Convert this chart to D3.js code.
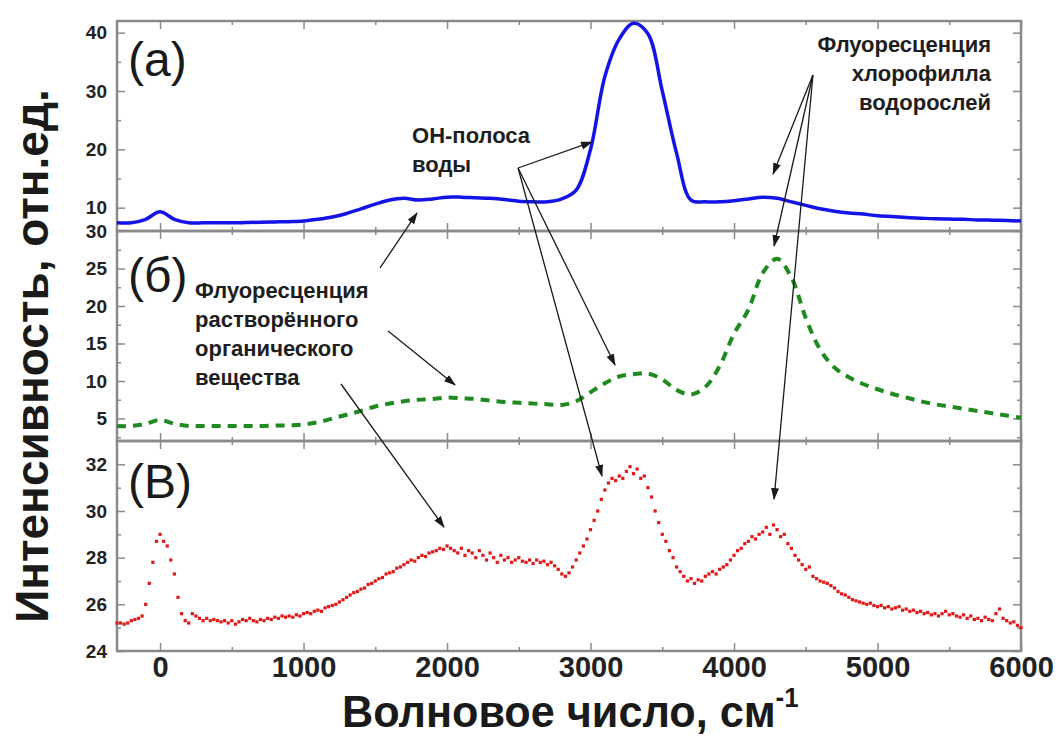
<!DOCTYPE html>
<html>
<head>
<meta charset="utf-8">
<script src="https://cdn.jsdelivr.net/npm/d3@7"></script>
<style>
    body { margin: 0; background: #fff; }
    text { font-family: "Liberation Sans", Arial, sans-serif; }
</style>
</head>
<body>
<svg id="chart"></svg>
<script>
const width = 1061,
      height = 738;

const MARGIN = { LEFT: 117, RIGHT: 40, TOP: 21, BOTTOM: 87 };

// wavenumber grids, cm-1
const waveCoarse = d3.range(-300, 6001, 100);
const waveFine = d3.range(-300, 6001, 25);

// (а) blue solid line
const seriesA = [
    7.4, 7.4, 8.0, 9.3, 8.0, 7.4, 7.4, 7.4, 7.4, 7.45,
    7.5, 7.55, 7.6, 7.7, 8.0, 8.4, 9.0, 9.8, 10.6, 11.3,
    11.6, 11.3, 11.5, 11.8, 11.8, 11.7, 11.6, 11.4, 11.1, 11.0,
    11.0, 11.5, 13.0, 20.0, 32.5, 38.9, 41.6, 39.8, 30.0, 19.3,
    11.3, 11.0, 11.0, 11.2, 11.5, 11.8, 11.6, 11.0, 10.4, 9.8,
    9.4, 9.1, 8.9, 8.6, 8.5, 8.3, 8.2, 8.1, 8.05, 8.0,
    7.9, 7.85, 7.8, 7.7
];

// (б) green dashed line
const seriesB = [
    4.0, 4.0, 4.3, 4.8, 4.3, 4.0, 4.0, 4.0, 4.0, 4.0,
    4.0, 4.05, 4.1, 4.2, 4.5, 5.0, 5.5, 6.0, 6.6, 7.0,
    7.3, 7.5, 7.6, 7.8, 7.7, 7.6, 7.4, 7.2, 7.1, 7.0,
    6.9, 6.8, 7.3, 8.5, 9.7, 10.6, 10.9, 11.0, 10.2, 8.8,
    8.2, 9.2, 12.0, 16.3, 19.5, 24.4, 26.3, 23.8, 18.4, 14.2,
    11.8, 10.5, 9.6, 8.9, 8.3, 7.8, 7.3, 6.9, 6.6, 6.3,
    6.0, 5.7, 5.4, 5.1
];

// (в) red dots, step 25 cm-1
const seriesC = [
    25.2, 25.2, 25.15, 25.2, 25.3, 25.35, 25.4, 25.5, 26.0, 26.9, 27.8, 28.7,
    29.0, 28.7, 28.5, 27.9, 27.3, 26.3, 25.6, 25.3, 25.2, 25.6, 25.5, 25.4, 25.3, 25.4, 25.3, 25.35, 25.3, 25.25, 25.3, 25.2,
    25.3, 25.15, 25.25, 25.35, 25.3, 25.4, 25.3, 25.25, 25.35, 25.3, 25.4, 25.35, 25.45, 25.4, 25.5, 25.45, 25.5, 25.45, 25.55, 25.5,
    25.6, 25.65, 25.6, 25.7, 25.75, 25.7, 25.85, 25.9, 25.95, 26.0, 26.1, 26.2, 26.3, 26.4, 26.5, 26.55, 26.65, 26.7, 26.85, 26.9,
    27.0, 27.1, 27.15, 27.3, 27.35, 27.4, 27.55, 27.6, 27.7, 27.8, 27.9, 27.85, 28.0, 28.1, 28.05, 28.2, 28.25, 28.3, 28.4, 28.35,
    28.5, 28.4, 28.3, 28.2, 28.4, 28.1, 28.3, 28.2, 28.0, 28.3, 28.1, 27.9, 28.2, 28.0, 27.8, 28.1, 27.9, 28.0, 27.8, 27.9,
    28.0, 27.85, 27.8, 27.9, 27.75, 27.9, 27.8, 27.85, 27.7, 27.8, 27.65, 27.5, 27.3, 27.2, 27.35, 27.6, 27.9, 28.2, 28.5, 28.8,
    29.2, 29.6, 30.0, 30.5, 30.9, 31.2, 31.4, 31.3, 31.5, 31.4, 31.7, 31.9, 31.6, 31.8, 31.4, 31.5, 31.0, 30.6, 30.0, 29.5,
    29.0, 28.7, 28.3, 28.0, 27.6, 27.4, 27.2, 27.0, 27.1, 26.9, 27.05, 27.0, 27.2, 27.3, 27.4, 27.3, 27.5, 27.6, 27.7, 27.9,
    28.1, 28.3, 28.4, 28.6, 28.7, 28.9, 28.8, 29.0, 29.1, 29.3, 29.0, 29.4, 29.2, 28.9, 29.0, 28.6, 28.4, 28.1, 27.9, 27.7,
    27.5, 27.6, 27.2, 27.1, 27.0, 26.95, 26.9, 26.8, 26.7, 26.55, 26.45, 26.4, 26.3, 26.2, 26.15, 26.1, 26.05, 26.0, 26.05, 25.95,
    25.9, 25.95, 25.85, 25.9, 25.8, 25.85, 25.9, 25.75, 25.8, 25.7, 25.75, 25.65, 25.7, 25.6, 25.65, 25.55, 25.6, 25.5, 25.6, 25.7,
    25.55, 25.6, 25.5, 25.45, 25.55, 25.4, 25.5, 25.35, 25.4, 25.3, 25.45, 25.35, 25.3, 25.6, 25.8, 25.4, 25.3, 25.2, 25.25, 25.1,
    25.0
];

const xDomain = [-300, 6000];
const xTicks = [0, 1000, 2000, 3000, 4000, 5000, 6000];
const xMinorTicks = [500, 1500, 2500, 3500, 4500, 5500];

const panelLabels = ["(а)", "(б)", "(В)"];
const panelDomains = [[6, 42], [2, 30], [24, 33]];
const panelTicks = [[10, 20, 30, 40], [5, 10, 15, 20, 25, 30], [24, 26, 28, 30, 32]];
const panelMinor = [[15, 25, 35], [2.5, 7.5, 12.5, 17.5, 22.5, 27.5], [25, 27, 29, 31]];
// label anchor in data units of its own panel
const panelLabelAt = [[-223, 32.6], [-223, 21.9], [-223, 30.56]];

// annotations: [x, panel, y] in data units
const noteTexts = [
    { lines: ["ОН-полоса", "воды"], at: [1756, 0, 21.1], anchor: "start" },
    { lines: ["Флуоресценция", "хлорофилла", "водорослей"], at: [5791, 0, 36.7], anchor: "end" },
    { lines: ["Флуоресценция", "растворённого", "органического", "вещества"], at: [244, 1, 21.07], anchor: "start" }
];
const noteArrows = [
    [[4550, 0, 32.74], [4272, 0, 15.77]],
    [[4550, 0, 32.74], [4279, 1, 28.0]],
    [[4550, 0, 32.74], [4279, 2, 30.51]],
    [[2495, 0, 16.8], [3010, 0, 21.26]],
    [[2495, 0, 16.8], [3171, 1, 12.13]],
    [[2495, 0, 16.8], [3080, 2, 31.5]],
    [[1533, 1, 25.07], [1791, 0, 9.09]],
    [[1589, 1, 16.67], [2056, 1, 9.47]],
    [[1261, 1, 9.6], [1979, 2, 29.31]]
];

const svg = d3.select("#chart").attr("width", width).attr("height", height);

const plotW = width - MARGIN.LEFT - MARGIN.RIGHT;
const plotH = height - MARGIN.TOP - MARGIN.BOTTOM;
const panelH = plotH / 3;
const frameColor = "#8a8a8a";

const x = d3.scaleLinear().domain(xDomain).range([MARGIN.LEFT, MARGIN.LEFT + plotW]);

const yScales = panelDomains.map((dom, i) => {
    const top = MARGIN.TOP + i * panelH;
    return d3.scaleLinear().domain(dom).range([top + panelH, top]);
});

svg.append("defs").append("marker")
    .attr("id", "head")
    .attr("markerUnits", "userSpaceOnUse")
    .attr("markerWidth", 12).attr("markerHeight", 10)
    .attr("refX", 11).attr("refY", 4)
    .attr("orient", "auto")
    .append("path")
    .attr("d", "M0,0 L12,4 L0,8 Z")
    .attr("fill", "#1a1a1a");

// axes for each panel, all ticks pointing inward
panelDomains.forEach((dom, i) => {
    const y = yScales[i];
    const top = y.range()[1], bottom = y.range()[0];
    const g = svg.append("g");

    const styleAxis = sel => {
        sel.select(".domain").remove();
        sel.selectAll(".tick line").attr("stroke", frameColor).attr("stroke-width", 1.5);
    };

    g.append("g").attr("transform", `translate(${MARGIN.LEFT},0)`)
        .call(d3.axisLeft(y).tickValues(panelTicks[i]).tickSize(-8).tickPadding(10).tickFormat(d3.format("d")))
        .call(styleAxis)
        .call(s => s.selectAll("text")
            .attr("font-size", 19).attr("font-weight", "bold").attr("fill", "#222")
            .attr("font-family", "Liberation Sans, Arial, sans-serif"));
    g.append("g").attr("transform", `translate(${MARGIN.LEFT},0)`)
        .call(d3.axisLeft(y).tickValues(panelMinor[i]).tickSize(-4).tickFormat(""))
        .call(styleAxis);
    g.append("g").attr("transform", `translate(${x.range()[1]},0)`)
        .call(d3.axisRight(y).tickValues(panelTicks[i]).tickSize(-8).tickFormat(""))
        .call(styleAxis);
    g.append("g").attr("transform", `translate(${x.range()[1]},0)`)
        .call(d3.axisRight(y).tickValues(panelMinor[i]).tickSize(-4).tickFormat(""))
        .call(styleAxis);

    g.append("g").attr("transform", `translate(0,${top})`)
        .call(d3.axisTop(x).tickValues(xTicks).tickSize(-8).tickFormat(""))
        .call(styleAxis);
    g.append("g").attr("transform", `translate(0,${top})`)
        .call(d3.axisTop(x).tickValues(xMinorTicks).tickSize(-4).tickFormat(""))
        .call(styleAxis);

    const bottomAxis = g.append("g").attr("transform", `translate(0,${bottom})`)
        .call(d3.axisBottom(x).tickValues(xTicks).tickSize(-8).tickPadding(5)
            .tickFormat(i === 2 ? d3.format("d") : ""))
        .call(styleAxis);
    bottomAxis.selectAll("text")
        .attr("font-size", 29).attr("font-weight", "bold").attr("fill", "#222");
    g.append("g").attr("transform", `translate(0,${bottom})`)
        .call(d3.axisBottom(x).tickValues(xMinorTicks).tickSize(-4).tickFormat(""))
        .call(styleAxis);

    // frame
    g.append("rect")
        .attr("x", x.range()[0]).attr("y", top)
        .attr("width", x.range()[1] - x.range()[0]).attr("height", bottom - top)
        .attr("fill", "none").attr("stroke", frameColor).attr("stroke-width", 2.5);

    g.append("text")
        .attr("x", x(panelLabelAt[i][0]))
        .attr("y", y(panelLabelAt[i][1]))
        .attr("font-size", 48)
        .attr("fill", "#1a1a1a")
        .text(panelLabels[i]);
});

// (а)
svg.append("path")
    .datum(waveCoarse.map((w, k) => [w, seriesA[k]]))
    .attr("fill", "none")
    .attr("stroke", "#1414e6")
    .attr("stroke-width", 3.5)
    .attr("d", d3.line().x(d => x(d[0])).y(d => yScales[0](d[1])).curve(d3.curveCatmullRom));

// (б)
svg.append("path")
    .datum(waveCoarse.map((w, k) => [w, seriesB[k]]))
    .attr("fill", "none")
    .attr("stroke", "#1f8a1f")
    .attr("stroke-width", 4)
    .attr("stroke-dasharray", "9,7")
    .attr("d", d3.line().x(d => x(d[0])).y(d => yScales[1](d[1])).curve(d3.curveCatmullRom));

// (в)
svg.append("g").selectAll("rect")
    .data(waveFine.map((w, k) => [w, seriesC[k]]))
    .join("rect")
    .attr("x", d => x(d[0]) - 1.6)
    .attr("y", d => yScales[2](d[1]) - 1.6)
    .attr("width", 3.2).attr("height", 3.2)
    .attr("fill", "#e01818");

// annotations
const toPx = p => [x(p[0]), yScales[p[1]](p[2])];

svg.append("g").selectAll("line")
    .data(noteArrows)
    .join("line")
    .attr("x1", d => toPx(d[0])[0]).attr("y1", d => toPx(d[0])[1])
    .attr("x2", d => toPx(d[1])[0]).attr("y2", d => toPx(d[1])[1])
    .attr("stroke", "#1a1a1a")
    .attr("stroke-width", 1.3)
    .attr("marker-end", "url(#head)");

noteTexts.forEach(n => {
    const p = toPx(n.at);
    const t = svg.append("text")
        .attr("x", p[0]).attr("y", p[1])
        .attr("text-anchor", n.anchor)
        .attr("font-size", 22)
        .attr("font-weight", "bold")
        .attr("fill", "#1e1e1e");
    n.lines.forEach((l, k) => {
        t.append("tspan").attr("x", p[0]).attr("dy", k === 0 ? 0 : 29).text(l);
    });
});

// axis titles
const xTitle = svg.append("g")
    .attr("transform", "translate(342,727) scale(0.96,1)")
    .append("text")
    .attr("font-size", 45)
    .attr("font-weight", "bold")
    .attr("fill", "#1a1a1a");
xTitle.append("tspan").text("Волновое число, см");
xTitle.append("tspan").attr("font-size", 27).attr("dy", -20).text("-1");

svg.append("text")
    .attr("transform", `translate(48,${(MARGIN.TOP + MARGIN.TOP + plotH) / 2 + 20}) rotate(-90)`)
    .attr("text-anchor", "middle")
    .attr("font-size", 46)
    .attr("font-weight", "bold")
    .attr("fill", "#1a1a1a")
    .text("Интенсивность, отн.ед.");
</script>
</body>
</html>
